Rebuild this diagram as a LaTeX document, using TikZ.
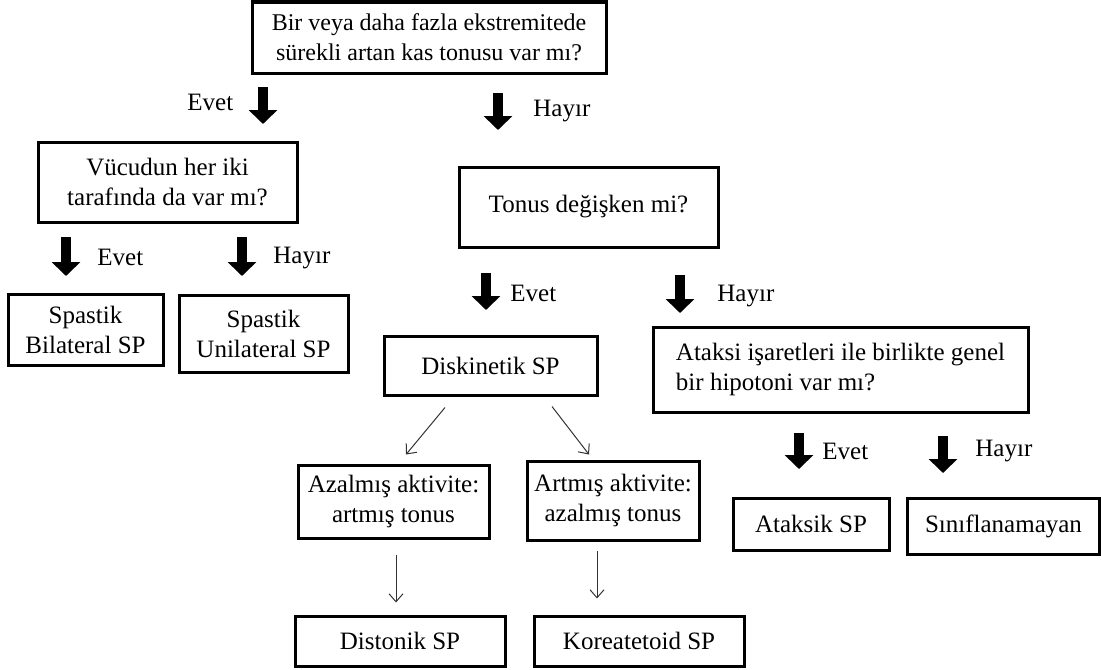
\documentclass[tikz,border=0pt]{standalone}
\usepackage{fontspec}
\setmainfont{Liberation Serif}
\usepackage{tikz}
\tikzset{>=latex}
\usetikzlibrary{calc,arrows.meta}

\tikzset{
  box/.style={draw, line width=1.5pt, align=center, inner sep=2pt,
    font=\fontsize{12.5pt}{15pt}\selectfont},
  fatarrow/.style={line width=5pt, -{Triangle[width=14pt,length=7pt]}},
  thinarrow/.style={draw=black!80, line width=0.5pt,
    -{Straight Barb[length=4pt,width=7pt]}},
  answer/.style={anchor=base west, inner sep=0pt,
    font=\fontsize{12.5pt}{15pt}\selectfont},
}

\begin{document}
\begin{tikzpicture}[x=0.5pt, y=-0.5pt]
  \useasboundingbox (0,0) rectangle (1101,669);

  % questions
  \node[box, font=\fontsize{12pt}{15pt}\selectfont, minimum width=177pt, minimum height=35.5pt] (tonus) at (429,37.5)
    {Bir veya daha fazla ekstremitede\\sürekli artan kas tonusu var mı?};
  \node[box, minimum width=129.5pt, minimum height=40pt] (ikitaraf) at (167.5,182)
    {Vücudun her iki\\tarafında da var mı?};
  \node[box, minimum width=129.5pt, minimum height=40pt] (degisken) at (588.5,207)
    {Tonus değişken mi?};
  \node[box, align=left, minimum width=187.5pt, minimum height=42.5pt] (ataksi) at (840.5,369.5)
    {Ataksi işaretleri ile birlikte genel\\bir hipotoni var mı?};

  % outcomes
  \node[box, minimum width=77.5pt, minimum height=35.5pt] (bilat) at (85.5,329.5)
    {Spastik\\Bilateral SP};
  \node[box, minimum width=84.5pt, minimum height=38.5pt] (unilat) at (263.5,333.5)
    {Spastik\\Unilateral SP};
  \node[box, minimum width=106.5pt, minimum height=29.5pt] (disk) at (490.5,365.5)
    {Diskinetik SP};
  \node[box, minimum width=95.5pt, minimum height=36.5pt] (azal) at (393.5,501.5)
    {Azalmış aktivite:\\artmış tonus};
  \node[box, minimum width=86pt, minimum height=39.5pt] (artm) at (613,500.5)
    {Artmış aktivite:\\azalmış tonus};
  \node[box, minimum width=105pt, minimum height=25pt] (disto) at (400,641)
    {Distonik SP};
  \node[box, minimum width=105pt, minimum height=25pt] (kore) at (639,641)
    {Koreatetoid SP};
  \node[box, minimum width=78pt, minimum height=26pt] (ataksik) at (811,524)
    {Ataksik SP};
  \node[box, minimum width=96pt, minimum height=28pt] (sinif) at (1003.5,526)
    {Sınıflanamayan};

  % yes / no arrows
  \foreach \x/\ya/\yb in {263/87/124, 498/93/130, 66/237/276, 242/237/276,
      486/273/310, 680/275/313, 799/433/469, 943/436/473}
    \draw[fatarrow] (\x,\ya) -- (\x,\yb);

  \node[answer] (evet1) at (187,110) {Evet};
  \node[answer] (hayir1) at (533,116) {Hayır};
  \node[answer] (evet2) at (97,265) {Evet};
  \node[answer] (hayir2) at (273,263) {Hayır};
  \node[answer] (evet3) at (510,301) {Evet};
  \node[answer] (hayir3) at (717,301) {Hayır};
  \node[answer] (evet4) at (822,459) {Evet};
  \node[answer] (hayir4) at (975,456) {Hayır};

  % dyskinetic branches
  \draw[thinarrow] ($(disk.south)+(-45.5,11)$) -- ($(azal.north)+(12.5,-9)$);
  \draw[thinarrow] ($(disk.south)+(61.5,10)$) -- ($(artm.north)+(-24,-5)$);
  \draw[thinarrow] ($(azal.south)+(2.5,15)$) -- ($(disto.north)+(-4,-12)$);
  \draw[thinarrow] ($(artm.south)+(-16,9)$) -- ($(kore.north)+(-42,-16)$);
\end{tikzpicture}
\end{document}
